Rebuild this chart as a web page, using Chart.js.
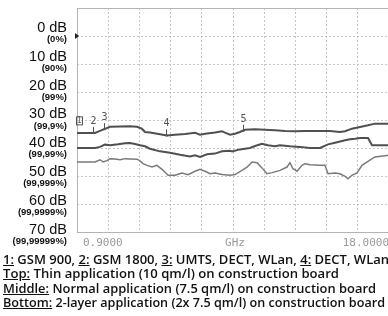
<!DOCTYPE html>
<html>
<head>
<meta charset="utf-8">
<script src="https://cdn.jsdelivr.net/npm/chart.js@4.4.1/dist/chart.umd.min.js"></script>
<style>
  html, body { margin: 0; padding: 0; background: #fff; overflow: hidden; }
  body { width: 388px; height: 316px; position: relative; }
  #chart { position: absolute; left: 0; top: 0; }
  .notes {
    position: absolute; left: 3px; top: 253px;
    font-family: 'Open Sans', 'Liberation Sans', Arial, sans-serif;
    font-weight: 600; font-size: 12.6px; line-height: 14.3px; color: #111;
    white-space: nowrap;
  }
  .notes div { transform-origin: 0 50%; width: max-content; }
  .notes u { text-underline-offset: 1px; text-decoration-thickness: 1px; }
</style>
</head>
<body>
<canvas id="chart" width="392" height="252"></canvas>
<div class="notes">
  <div data-w="386"><u>1:</u> GSM 900, <u>2:</u> GSM 1800, <u>3:</u> UMTS, DECT, WLan, <u>4:</u> DECT, WLan</div>
  <div data-w="336"><u>Top:</u> Thin application (10 qm/l) on construction board</div>
  <div data-w="373"><u>Middle:</u> Normal application (7.5 qm/l) on construction board</div>
  <div data-w="382"><u>Bottom:</u> 2-layer application (2x 7.5 qm/l) on construction board</div>
</div>
<script>
'use strict';

// ── Data (GHz / dB attenuation) ──────────────────────────────────────────────

const topGHz = [0.9, 1.01, 1.89, 2.16, 2.53, 2.71, 3.26, 3.80, 4.19, 4.45, 4.63, 4.90, 5.45, 5.83, 6.27, 6.82, 7.37, 7.64, 7.92, 8.46, 8.85, 9.01, 9.29, 9.56, 9.83, 10.11, 10.66, 11.20, 11.75, 12.30, 12.85, 13.40, 13.94, 14.77, 15.31, 15.59, 15.97, 16.41, 16.85, 17.23, 18.0];
const topDb  = [34.6, 34.6, 34.6, 33.9, 32.9, 32.4, 32.3, 32.25, 32.4, 33.1, 34.3, 34.5, 35.1, 35.5, 35.25, 35.0, 34.6, 35.25, 34.9, 34.5, 34.0, 34.5, 35.25, 34.9, 34.3, 33.5, 33.3, 33.5, 33.7, 33.9, 34.0, 33.9, 33.9, 33.9, 34.3, 34.0, 33.1, 32.5, 31.9, 31.3, 31.3];

const middleGHz = [0.9, 1.01, 1.89, 2.16, 2.43, 2.71, 3.15, 3.53, 3.80, 4.08, 4.35, 4.63, 4.90, 5.45, 6.00, 6.55, 7.09, 7.37, 7.64, 8.03, 8.46, 8.85, 9.29, 9.40, 9.83, 10.38, 10.66, 11.04, 11.37, 11.75, 12.03, 12.57, 13.12, 13.67, 14.22, 14.66, 15.04, 15.59, 15.86, 16.14, 16.41, 16.85, 17.07, 18.0];
const middleDb  = [40.0, 40.0, 40.0, 39.6, 38.8, 39.0, 38.7, 38.3, 38.2, 38.6, 39.0, 39.4, 40.25, 41.2, 41.7, 42.4, 43.0, 42.6, 43.2, 42.25, 42.0, 41.2, 41.0, 41.2, 40.5, 40.0, 39.3, 38.5, 39.0, 39.4, 39.0, 39.4, 39.6, 40.0, 40.0, 38.7, 38.1, 37.25, 36.9, 36.7, 36.4, 36.4, 39.0, 39.0];

const bottomGHz = [0.9, 1.01, 1.89, 2.16, 2.33, 2.54, 2.71, 2.98, 3.26, 3.53, 3.80, 4.19, 4.35, 4.52, 4.74, 5.01, 5.28, 5.56, 5.89, 6.27, 6.65, 6.98, 7.37, 7.64, 7.92, 8.19, 8.46, 8.85, 9.29, 9.56, 9.94, 10.22, 10.38, 10.49, 10.77, 11.04, 11.31, 11.59, 12.03, 12.41, 12.57, 12.74, 12.96, 13.23, 13.40, 13.67, 14.22, 14.49, 14.66, 15.04, 15.31, 15.59, 15.75, 15.97, 16.25, 16.52, 16.85, 17.23, 18.0];
const bottomDb  = [45.0, 45.0, 45.0, 44.2, 45.0, 44.5, 43.8, 43.9, 44.2, 43.8, 43.9, 44.0, 44.6, 45.6, 46.2, 46.8, 46.2, 47.6, 49.75, 49.75, 48.9, 49.5, 48.3, 47.6, 48.3, 49.2, 48.9, 49.5, 49.75, 49.5, 48.0, 46.8, 45.8, 45.0, 45.25, 47.1, 49.2, 48.8, 48.0, 46.8, 45.25, 47.4, 48.3, 46.2, 45.6, 46.0, 46.2, 46.2, 49.2, 48.9, 49.2, 50.1, 51.0, 49.75, 48.9, 46.2, 44.75, 43.2, 42.6];

// service markers on the top trace
const markerGHz    = [0.9, 1.8, 2.4, 5.8, 10.0];
const markerLabels = ['1', '2', '3', '4', '5'];

// y axis labels
const dbTicks   = [0, 10, 20, 30, 40, 50, 60, 70];
const pctLabels = ['(0%)', '(90%)', '(99%)', '(99,9%)', '(99,99%)', '(99,999%)', '(99,9999%)', '(99,99999%)'];

// x axis labels
const xMin = 0.9, xMax = 18.0;
const xLabels = ['0.9000', 'GHz', '18.0000'];

// ── Helpers ──────────────────────────────────────────────────────────────────

function points(xs, ys) {
  return xs.map((x, i) => ({ x, y: ys[i] }));
}

function valueAt(xs, ys, x) {
  for (let i = 1; i < xs.length; i++) {
    if (x <= xs[i]) {
      const t = (x - xs[i - 1]) / (xs[i] - xs[i - 1]);
      return ys[i - 1] + t * (ys[i] - ys[i - 1]);
    }
  }
  return ys[ys.length - 1];
}

// fit each caption line to the width it has in the original
document.querySelectorAll('.notes div').forEach(el => {
  const w = el.getBoundingClientRect().width;
  el.style.transform = `scaleX(${(+el.dataset.w / w).toFixed(4)})`;
});

// ── Decorations: frame, labels, markers ──────────────────────────────────────

const decor = {
  id: 'decor',
  beforeDatasetsDraw(chart) {
    const { ctx, chartArea: a } = chart;
    ctx.save();
    ctx.strokeStyle = '#b4b4b4';
    ctx.lineWidth = 1;
    ctx.strokeRect(a.left + 0.5, a.top + 0.5, a.right - a.left, a.bottom - a.top);
    ctx.restore();
  },
  afterDraw(chart) {
    const { ctx, chartArea: a, scales: { x, y } } = chart;
    ctx.save();

    // left labels
    ctx.textAlign = 'right';
    ctx.textBaseline = 'middle';
    ctx.fillStyle = '#111';
    dbTicks.forEach((v, i) => {
      const py = y.getPixelForValue(v) - 8 + v * 0.08;
      ctx.font = '14.5px "Liberation Sans", Arial, sans-serif';
      ctx.fillText(v + ' dB', 67, py);
      ctx.font = 'bold 9.5px "Liberation Sans", Arial, sans-serif';
      ctx.fillText(pctLabels[i], 67, py + 11.5);
    });

    // reference arrow at 0 dB
    const y0 = y.getPixelForValue(0);
    ctx.fillStyle = '#222';
    ctx.beginPath();
    ctx.moveTo(a.left - 2, y0 - 3);
    ctx.lineTo(a.left + 2, y0);
    ctx.lineTo(a.left - 2, y0 + 3);
    ctx.closePath();
    ctx.fill();

    // bottom labels
    ctx.font = '11px "DejaVu Sans Mono", monospace';
    ctx.fillStyle = '#9a9a9a';
    ctx.textBaseline = 'middle';
    ctx.textAlign = 'left';
    ctx.fillText(xLabels[0], x.getPixelForValue(xMin) + 6, 243);
    ctx.textAlign = 'center';
    ctx.fillText(xLabels[1], (x.getPixelForValue(xMin) + x.getPixelForValue(xMax)) / 2 + 2, 243);
    ctx.textAlign = 'right';
    ctx.fillText(xLabels[2], x.getPixelForValue(xMax), 243);

    // markers
    ctx.font = '10px "DejaVu Sans Mono", monospace';
    ctx.textAlign = 'center';
    ctx.strokeStyle = '#555';
    ctx.lineWidth = 1;
    markerGHz.forEach((f, i) => {
      const px = Math.round(x.getPixelForValue(f)) + 0.5;
      const py = y.getPixelForValue(valueAt(topGHz, topDb, f));
      ctx.fillStyle = '#555';
      if (i === 0) {
        const bx = px + 2;
        ctx.strokeRect(bx - 3, py - 16, 6, 8);
        ctx.font = '8px "DejaVu Sans Mono", monospace';
        ctx.fillText(markerLabels[i], bx, py - 11.5);
        ctx.font = '10px "DejaVu Sans Mono", monospace';
      } else {
        ctx.fillText(markerLabels[i], px, py - 11.5);
        ctx.beginPath();
        ctx.moveTo(px, py - 6);
        ctx.lineTo(px, py);
        ctx.stroke();
        ctx.fillRect(px - 1, py - 1, 2, 2);
      }
    });

    ctx.restore();
  }
};

// ── Chart ────────────────────────────────────────────────────────────────────

const gridStyle = { color: '#c6c6c6', lineWidth: 1, drawTicks: false, tickLength: 0 };

new Chart(document.getElementById('chart').getContext('2d'), {
  type: 'line',
  data: {
    datasets: [
      { label: 'Top', data: points(topGHz, topDb), borderColor: '#505050', borderWidth: 2 },
      { label: 'Middle', data: points(middleGHz, middleDb), borderColor: '#505050', borderWidth: 2 },
      { label: 'Bottom', data: points(bottomGHz, bottomDb), borderColor: '#7a7a7a', borderWidth: 1.5 }
    ]
  },
  options: {
    responsive: false,
    animation: false,
    devicePixelRatio: 1,
    layout: { padding: { left: 77, top: 8, right: 3, bottom: 20 } },
    elements: { point: { radius: 0 }, line: { tension: 0, fill: false } },
    plugins: { legend: { display: false }, tooltip: { enabled: false } },
    scales: {
      x: {
        type: 'linear', min: xMin, max: xMax,
        ticks: { display: false, stepSize: 1.71 },
        grid: gridStyle,
        border: { display: false, dash: [2, 2] },
        afterFit: s => { s.height = 0; }
      },
      y: {
        min: -10, max: 70, reverse: true,
        ticks: { display: false, stepSize: 10 },
        grid: gridStyle,
        border: { display: false, dash: [2, 2] },
        afterFit: s => { s.width = 0; }
      }
    }
  },
  plugins: [decor]
});
</script>
</body>
</html>
